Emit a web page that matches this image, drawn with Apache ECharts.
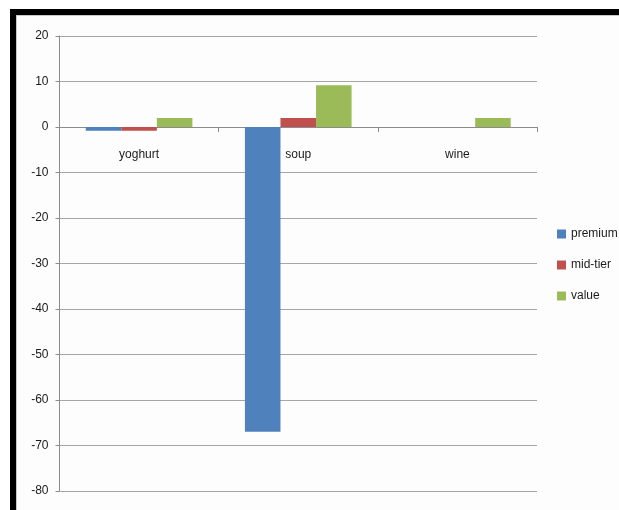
<!DOCTYPE html>
<html>
<head>
<meta charset="utf-8">
<script src="https://cdn.jsdelivr.net/npm/echarts@6/dist/echarts.min.js"></script>
<style>
  html, body { margin: 0; padding: 0; background: #ffffff; }
  #chart { width: 619px; height: 510px; }
</style>
</head>
<body>
<div id="chart"></div>
<script>
// Product categories and the change per price tier
const categories = ['yoghurt', 'soup', 'wine'];
const premium = [-0.8, -67, 0];
const midTier = [-0.8, 2, 0];
const valueTier = [2, 9.2, 2];
const seriesNames = ['premium', 'mid-tier', 'value'];
const colors = ['#4f81bd', '#c0504d', '#9bbb59'];
const yMin = -80, yMax = 20, yStep = 10;

const FONT = '"Liberation Sans Narrow", "Liberation Sans", Arial, sans-serif';

const W = 619, H = 510;
const gridBox = { left: 59.5, right: 82, top: 36, bottom: 19 };
const plotH = H - gridBox.top - gridBox.bottom;
// the category axis sits on the zero line, lifted from the bottom edge of the plot
const zeroLift = plotH * (0 - yMin) / (yMax - yMin);

const chart = echarts.init(document.getElementById('chart'), null, { renderer: 'canvas' });

chart.setOption({
  animation: false,
  backgroundColor: '#ffffff',
  color: colors,
  graphic: [
    // panel background and dark frame along the top and left edges
    { type: 'rect', shape: { x: 16, y: 15, width: 603, height: 495 }, style: { fill: '#fdfdfd' }, z: -10 },
    { type: 'rect', shape: { x: 10, y: 9, width: 609, height: 6 }, style: { fill: '#000000' } },
    { type: 'rect', shape: { x: 10, y: 9, width: 6, height: 501 }, style: { fill: '#000000' } },
    { type: 'rect', shape: { x: 16, y: 15, width: 603, height: 1 }, style: { fill: '#c8c8c8' } },
    { type: 'rect', shape: { x: 16, y: 15, width: 1, height: 495 }, style: { fill: '#c8c8c8' } }
  ],
  grid: Object.assign({ containLabel: false, outerBoundsMode: 'none' }, gridBox),
  legend: {
    orient: 'vertical',
    left: 552,
    top: 223,
    itemWidth: 9,
    itemHeight: 9,
    itemGap: 19,
    icon: 'rect',
    textStyle: { fontFamily: FONT, fontSize: 12, color: '#1a1a1a' },
    data: seriesNames
  },
  xAxis: {
    type: 'category',
    data: categories,
    position: 'bottom',
    offset: -zeroLift,
    axisLine: { onZero: false, lineStyle: { color: '#8c8c8c', width: 1 } },
    axisTick: { show: true, length: 5, lineStyle: { color: '#8c8c8c' } },
    axisLabel: { margin: 22, fontFamily: FONT, fontSize: 12, color: '#1a1a1a' },
    splitLine: { show: false }
  },
  yAxis: {
    type: 'value',
    min: yMin,
    max: yMax,
    interval: yStep,
    axisLine: { show: true, lineStyle: { color: '#8c8c8c', width: 1 } },
    axisTick: { show: true, length: 4, lineStyle: { color: '#8c8c8c' } },
    axisLabel: { margin: 11, fontFamily: FONT, fontSize: 12, color: '#1a1a1a' },
    splitLine: { show: true, lineStyle: { color: '#a6a6a6', width: 1 } }
  },
  series: [
    { name: seriesNames[0], type: 'bar', data: premium, barGap: '0%', barCategoryGap: '33%' },
    { name: seriesNames[1], type: 'bar', data: midTier, barGap: '0%', barCategoryGap: '33%' },
    { name: seriesNames[2], type: 'bar', data: valueTier, barGap: '0%', barCategoryGap: '33%' }
  ]
});
</script>
</body>
</html>
